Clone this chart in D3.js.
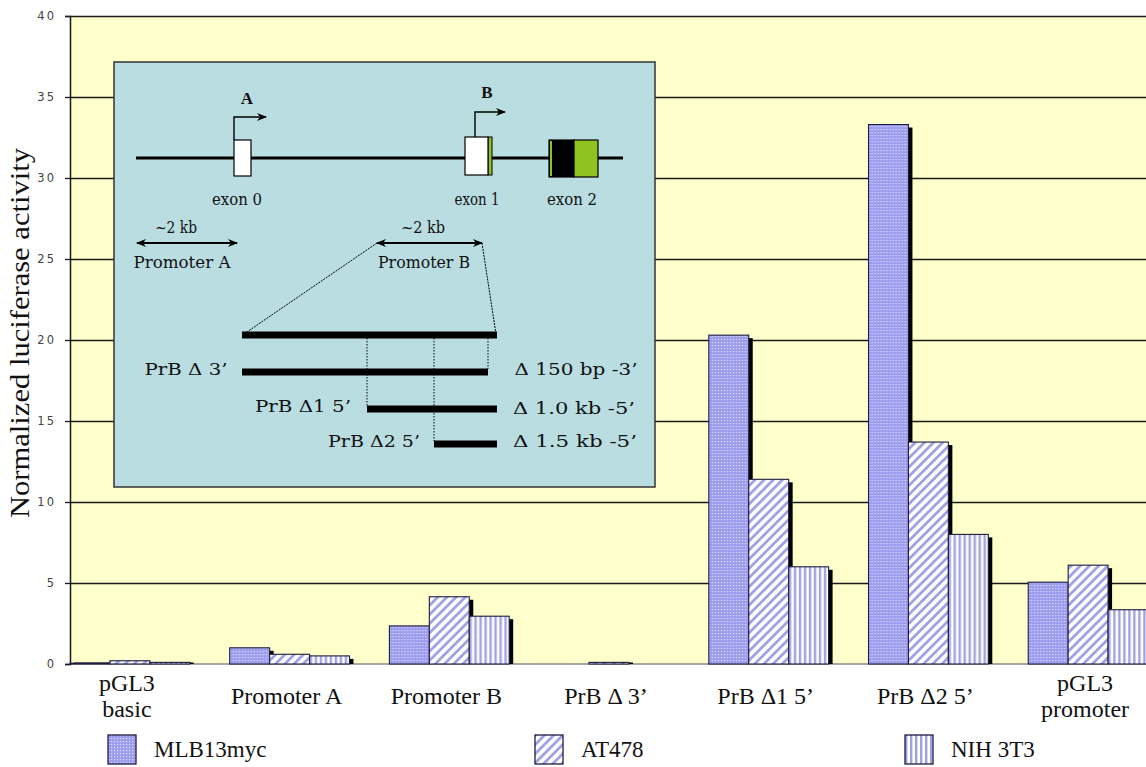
<!DOCTYPE html>
<html><head><meta charset="utf-8">
<script src="https://cdn.jsdelivr.net/npm/d3@7"></script>
<style>body{margin:0;background:#fff}svg{display:block}</style>
</head><body><svg id="c" width="1146" height="767"></svg>
<script>
// ---- data ----
const categories = ["pGL3\nbasic", "Promoter A", "Promoter B", "PrB \u0394 3\u2019", "PrB \u03941 5\u2019", "PrB \u03942 5\u2019", "pGL3\npromoter"];
const seriesNames = ["MLB13myc", "AT478", "NIH 3T3"];
const mlb13myc = [0.05, 1.0, 2.35, 0, 20.3, 33.3, 5.05];
const at478 = [0.2, 0.6, 4.15, 0.1, 11.4, 13.7, 6.1];
const nih3t3 = [0.1, 0.5, 2.95, 0, 6.0, 8.0, 3.35];
const yTicks = [0, 5, 10, 15, 20, 25, 30, 35, 40];
const yTitle = "Normalized luciferase activity";

const seriesValues = [mlb13myc, at478, nih3t3];
const W = 1146, H = 767;
const mLeft = 70, mTop = 16, mBottom = 664;

const svg = d3.select("#c");
const defs = svg.append("defs");

// patterns
const pDots = defs.append("pattern").attr("id", "pDots").attr("patternUnits", "userSpaceOnUse")
  .attr("width", 3).attr("height", 3);
pDots.append("rect").attr("width", 3).attr("height", 3).attr("fill", "#9c9cee");
pDots.append("rect").attr("width", 1.2).attr("height", 1.2).attr("fill", "#dedeff");

const pDiag = defs.append("pattern").attr("id", "pDiag").attr("patternUnits", "userSpaceOnUse")
  .attr("width", 6.5).attr("height", 6.5).attr("patternTransform", "rotate(45)");
pDiag.append("rect").attr("width", 6.5).attr("height", 6.5).attr("fill", "#ffffff");
pDiag.append("rect").attr("width", 2.8).attr("height", 6.5).attr("fill", "#a2a2e2");

const pVert = defs.append("pattern").attr("id", "pVert").attr("patternUnits", "userSpaceOnUse")
  .attr("width", 5).attr("height", 5);
pVert.append("rect").attr("width", 5).attr("height", 5).attr("fill", "#ffffff");
pVert.append("rect").attr("width", 2.4).attr("height", 5).attr("fill", "#a2a2e2");

const fills = ["url(#pDots)", "url(#pDiag)", "url(#pVert)"];

// arrow markers
defs.append("marker").attr("id", "ah").attr("viewBox", "0 0 10 10").attr("refX", 9).attr("refY", 5)
  .attr("markerWidth", 10).attr("markerHeight", 10).attr("markerUnits", "userSpaceOnUse").attr("orient", "auto-start-reverse")
  .append("path").attr("d", "M0,1 L10,5 L0,9 L3,5 Z").attr("fill", "#000");

// scales
const x0 = d3.scaleBand().domain(categories).range([mLeft, 1148]).paddingInner(0.25).paddingOuter(0);
const x1 = d3.scaleBand().domain(seriesNames).range([0, x0.bandwidth()]);
const y = d3.scaleLinear().domain([0, 40]).range([mBottom, mTop]);

// plot background
svg.append("rect").attr("x", mLeft).attr("y", mTop).attr("width", W - mLeft).attr("height", mBottom - mTop)
  .attr("fill", "#ffffcc");

// gridlines
svg.append("g").attr("transform", `translate(${mLeft},0)`)
  .call(d3.axisLeft(y).tickValues(yTicks.filter(d => d > 0)).tickSize(-(W - mLeft)).tickFormat(""))
  .call(g => g.select(".domain").remove())
  .call(g => g.selectAll("line").attr("stroke", "#1a1a1a").attr("stroke-width", 1.3));

// baseline
svg.append("line").attr("x1", mLeft).attr("x2", W).attr("y1", y(0)).attr("y2", y(0))
  .attr("stroke", "#8a8a8a").attr("stroke-width", 1.5);

// y axis with labels
svg.append("g").attr("transform", `translate(${mLeft},0)`)
  .call(d3.axisLeft(y).tickValues(yTicks).tickSize(5).tickPadding(9))
  .call(g => g.select(".domain").attr("stroke", "#1a1a1a").attr("stroke-width", 1.5))
  .call(g => g.selectAll("line").attr("stroke", "#1a1a1a").attr("stroke-width", 1.3))
  .call(g => g.selectAll("text").attr("font-family", "DejaVu Sans").attr("font-size", 11.5)
    .attr("letter-spacing", "2px").attr("fill", "#444"));

// y title
svg.append("text").attr("transform", `translate(29,${(mTop + mBottom) / 2 - 7}) rotate(-90)`)
  .attr("text-anchor", "middle").attr("font-family", "Liberation Serif").attr("font-size", 27)
  .attr("textLength", 370).attr("lengthAdjust", "spacingAndGlyphs")
  .attr("fill", "#111").text(yTitle);

// ---- inset diagram ----
const ins = svg.append("g");
ins.append("rect").attr("x", 114).attr("y", 62).attr("width", 541).attr("height", 425)
  .attr("fill", "#badde1").attr("stroke", "#333").attr("stroke-width", 1.5);
const iFont = "DejaVu Serif";
function itext(str, xc, yb, len, opts = {}) {
  const t = ins.append("text").attr("x", xc).attr("y", yb).attr("text-anchor", opts.anchor || "middle")
    .attr("font-family", opts.family || iFont).attr("font-size", opts.size || 16)
    .attr("font-weight", opts.weight || "normal").attr("fill", "#111").text(str);
  if (len) t.attr("textLength", len).attr("lengthAdjust", "spacingAndGlyphs");
  return t;
}
// genomic line
ins.append("line").attr("x1", 136).attr("x2", 623).attr("y1", 158).attr("y2", 158).attr("stroke", "#000").attr("stroke-width", 3);
// exon 0
ins.append("rect").attr("x", 234).attr("y", 140).attr("width", 17).attr("height", 36).attr("fill", "#fff").attr("stroke", "#000").attr("stroke-width", 1.2);
// exon 1
ins.append("rect").attr("x", 488).attr("y", 137).attr("width", 4).attr("height", 38).attr("fill", "#8fc31f").attr("stroke", "#000").attr("stroke-width", 1);
ins.append("rect").attr("x", 465).attr("y", 137).attr("width", 23).attr("height", 38).attr("fill", "#fff").attr("stroke", "#000").attr("stroke-width", 1.2);
// exon 2
ins.append("rect").attr("x", 549).attr("y", 140).attr("width", 25).attr("height", 37).attr("fill", "#000").attr("stroke", "#000").attr("stroke-width", 1.2);
ins.append("rect").attr("x", 550).attr("y", 141).attr("width", 2).attr("height", 35).attr("fill", "#8fc31f");
ins.append("rect").attr("x", 574).attr("y", 140).attr("width", 24).attr("height", 37).attr("fill", "#8fc31f").attr("stroke", "#000").attr("stroke-width", 1.2);
// transcription arrows
ins.append("path").attr("d", "M234,140 V117 H266").attr("fill", "none").attr("stroke", "#000").attr("stroke-width", 1.4).attr("marker-end", "url(#ah)");
ins.append("path").attr("d", "M475,137 V112 H505").attr("fill", "none").attr("stroke", "#000").attr("stroke-width", 1.4).attr("marker-end", "url(#ah)");
itext("A", 247, 104, null, { weight: "bold", size: 17, family: "Liberation Serif" });
itext("B", 487, 98, null, { weight: "bold", size: 17, family: "Liberation Serif" });
itext("exon 0", 237, 205, 50);
itext("exon 1", 477, 205, 45);
itext("exon 2", 572, 205, 50);
// promoter arrows
itext("~2 kb", 176, 233, 42);
ins.append("line").attr("x1", 137).attr("x2", 237).attr("y1", 243).attr("y2", 243).attr("stroke", "#000").attr("stroke-width", 2)
  .attr("marker-start", "url(#ah)").attr("marker-end", "url(#ah)");
itext("Promoter A", 182, 268, 97);
itext("~2 kb", 423, 233, 44);
ins.append("line").attr("x1", 377).attr("x2", 482).attr("y1", 243).attr("y2", 243).attr("stroke", "#000").attr("stroke-width", 2)
  .attr("marker-start", "url(#ah)").attr("marker-end", "url(#ah)");
itext("Promoter B", 424, 268, 92);
// zoom lines
ins.append("line").attr("x1", 377).attr("y1", 243).attr("x2", 244).attr("y2", 334).attr("stroke", "#000").attr("stroke-width", 1).attr("stroke-dasharray", "2,1");
ins.append("line").attr("x1", 482).attr("y1", 243).attr("x2", 496).attr("y2", 334).attr("stroke", "#000").attr("stroke-width", 1).attr("stroke-dasharray", "2,1");
// constructs
function cbar(x1, x2, yy) {
  ins.append("rect").attr("x", x1).attr("y", yy - 3.5).attr("width", x2 - x1).attr("height", 7).attr("fill", "#000");
}
cbar(242, 497, 335);
cbar(242, 488, 372);
cbar(367, 497, 409);
cbar(434, 497, 444);
[[367, 406], [434, 441], [488, 369]].forEach(([xx, y2]) => {
  ins.append("line").attr("x1", xx).attr("x2", xx).attr("y1", 338).attr("y2", y2)
    .attr("stroke", "#000").attr("stroke-width", 1).attr("stroke-dasharray", "1.5,1.5");
});
itext("PrB \u0394 3\u2019", 186, 375, 83);
itext("PrB \u03941 5\u2019", 303, 412, 96);
itext("PrB \u03942 5\u2019", 374, 447, 92);
itext("\u0394 150 bp -3\u2019", 576, 375, 123);
itext("\u0394 1.0 kb -5\u2019", 574, 414, 122);
itext("\u0394 1.5 kb -5\u2019", 575, 447, 124);

// ---- bars ----
const groups = svg.append("g").selectAll("g").data(categories).join("g")
  .attr("transform", d => `translate(${x0(d)},0)`);
groups.each(function (cat, ci) {
  const g = d3.select(this);
  seriesNames.forEach((s, si) => {
    const v = seriesValues[si][ci];
    if (v <= 0) return;
    const bx = x1(s), bw = x1.bandwidth();
    const by = y(v), bh = y(0) - y(v);
    const sy = Math.min(by + 3, y(0) - 1.5);
    g.append("rect").attr("x", bx + 4).attr("y", sy).attr("width", bw).attr("height", y(0) - sy)
      .attr("fill", "#000");
    g.append("rect").attr("x", bx).attr("y", by).attr("width", bw).attr("height", bh)
      .attr("fill", fills[si]).attr("stroke", "#1c1c44").attr("stroke-width", 1.1);
  });
});

// x labels
const xl = svg.append("g");
categories.forEach(c => {
  const lines = c.split("\n");
  const cx = x0(c) + x0.bandwidth() / 2 - 3;
  const t = xl.append("text").attr("x", cx).attr("text-anchor", "middle")
    .attr("font-family", "Liberation Serif").attr("font-size", 24).attr("fill", "#111");
  if (lines.length === 1) {
    t.attr("y", 704).text(lines[0]);
  } else {
    lines.forEach((ln, i) => t.append("tspan").attr("x", cx).attr("y", 691 + i * 26).text(ln));
  }
});

// legend
const legendX = [108, 535, 905];
seriesNames.forEach((s, i) => {
  svg.append("rect").attr("x", legendX[i]).attr("y", 735).attr("width", 28).attr("height", 29)
    .attr("fill", fills[i]).attr("stroke", "#1c1c44").attr("stroke-width", 1.3);
  svg.append("text").attr("x", legendX[i] + 46).attr("y", 757).attr("font-family", "Liberation Serif")
    .attr("font-size", 23).attr("fill", "#111").text(s);
});
</script></body></html>
